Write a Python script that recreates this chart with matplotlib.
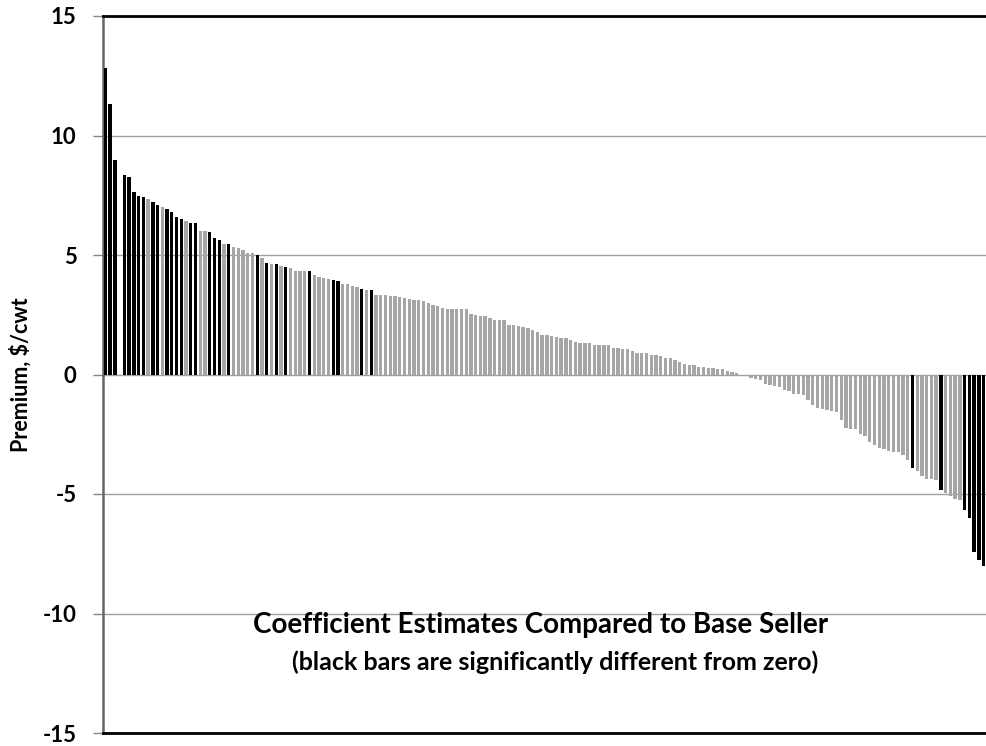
import numpy as np
import matplotlib
matplotlib.use("Agg")
import matplotlib.pyplot as plt

# Coefficient estimates (premium, $/cwt) for each seller, sorted high to low.
# Slot 3 is blank in the original chart.
premium = [
    12.82, 11.31, 8.97, np.nan, 8.35, 8.27, 7.64, 7.47, 7.43, 7.33,
    7.22, 7.08, 7.00, 6.92, 6.78, 6.59, 6.49, 6.42, 6.35, 6.35,
    6.01, 6.00, 5.97, 5.73, 5.63, 5.48, 5.47, 5.33, 5.29, 5.19,
    5.09, 5.07, 5.00, 4.88, 4.68, 4.62, 4.61, 4.54, 4.51, 4.47,
    4.34, 4.33, 4.33, 4.31, 4.15, 4.09, 4.02, 3.98, 3.97, 3.90,
    3.80, 3.77, 3.70, 3.66, 3.59, 3.54, 3.53, 3.34, 3.34, 3.33,
    3.29, 3.27, 3.26, 3.22, 3.17, 3.11, 3.11, 3.06, 3.00, 2.90,
    2.85, 2.79, 2.75, 2.75, 2.75, 2.75, 2.75, 2.54, 2.49, 2.44,
    2.44, 2.37, 2.30, 2.28, 2.28, 2.08, 2.08, 2.03, 2.00, 1.96,
    1.86, 1.76, 1.66, 1.66, 1.61, 1.56, 1.51, 1.51, 1.44, 1.38,
    1.30, 1.30, 1.30, 1.24, 1.24, 1.24, 1.23, 1.09, 1.09, 1.05,
    1.05, 0.98, 0.91, 0.91, 0.88, 0.80, 0.80, 0.79, 0.67, 0.67,
    0.60, 0.52, 0.43, 0.38, 0.38, 0.32, 0.32, 0.26, 0.26, 0.21,
    0.21, 0.15, 0.11, 0.06, -0.02, -0.07, -0.14, -0.18, -0.24, -0.38,
    -0.46, -0.49, -0.52, -0.66, -0.71, -0.81, -0.81, -0.87, -1.08, -1.28,
    -1.40, -1.44, -1.50, -1.51, -1.56, -1.91, -2.23, -2.26, -2.28, -2.48,
    -2.58, -2.83, -2.97, -3.07, -3.11, -3.21, -3.25, -3.25, -3.35, -3.56,
    -3.91, -4.05, -4.26, -4.36, -4.36, -4.40, -4.82, -4.96, -5.10, -5.21,
    -5.24, -5.66, -6.00, -7.44, -7.75, -8.03,
]

# positions of the bars that are significantly different from zero
significant_idx = [0, 1, 2, 4, 5, 6, 7, 8, 10, 11, 13, 14, 15, 16, 18, 19,
                   22, 23, 24, 26, 32, 34, 36, 38, 43, 48, 49, 54, 56,
                   170, 176, 181, 182, 183, 184, 185]

y_ticks = [-15, -10, -5, 0, 5, 10, 15]
title_main = "Coefficient Estimates Compared to Base Seller"
title_sub = "(black bars are significantly different from zero)"

plt.rcParams['font.family'] = ['Lato', 'DejaVu Sans']
plt.rcParams['font.weight'] = 'bold'

fig = plt.figure(figsize=(9.86, 7.46), dpi=100)
ax = fig.add_axes([103 / 986, 13 / 746, 1 - 103 / 986, 717 / 746])

x = np.arange(len(premium))
colors = ['black' if i in significant_idx else '#a6a6a6' for i in x]
ax.bar(x, premium, width=0.7, color=colors, zorder=3)

ax.set_xlim(-0.5, len(premium) - 0.5)
ax.set_ylim(-15, 15)
ax.set_yticks(y_ticks)
ax.set_yticklabels([str(t) for t in y_ticks], fontsize=16, fontweight='bold')
ax.set_xticks([])

ax.grid(axis='y', color='#a0a0a0', linewidth=1.0, zorder=0)
ax.set_axisbelow(True)

ax.spines['right'].set_visible(False)
ax.spines['left'].set_color('#666666')
ax.spines['left'].set_linewidth(1.8)
ax.spines['top'].set_color('black')
ax.spines['top'].set_linewidth(2.0)
ax.spines['bottom'].set_color('black')
ax.spines['bottom'].set_linewidth(2.0)
ax.tick_params(axis='y', length=7, width=1.0, color='#888888', pad=12)

ax.set_ylabel("Premium, $/cwt", fontsize=15.5, fontweight='bold', labelpad=8)

ax.text(0.495, 0.151, title_main, transform=ax.transAxes, ha='center',
        va='center', fontsize=20, fontweight='bold')
ax.text(0.512, 0.099, title_sub, transform=ax.transAxes, ha='center',
        va='center', fontsize=18, fontweight='bold')

fig.savefig("out.png", dpi=100)
